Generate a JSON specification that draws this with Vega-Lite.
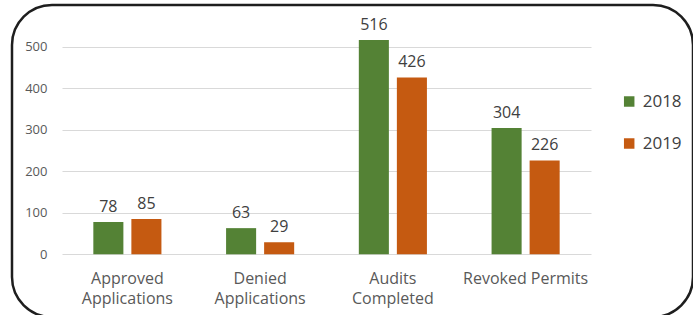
{
  "$schema": "https://vega.github.io/schema/vega-lite/v6.json",
  "width": 681,
  "height": 312,
  "autosize": {"type": "none"},
  "padding": {"left": 12, "top": 5, "right": 0, "bottom": 0},
  "background": "white",
  "config": {
    "view": {"stroke": "#1e1e1e", "strokeWidth": 2.5, "cornerRadius": 40, "fill": "white"},
    "font": "Open Sans"
  },
  "data": {
    "values": [
      {"category": "Approved Applications", "year": "2018", "value": 78},
      {"category": "Approved Applications", "year": "2019", "value": 85},
      {"category": "Denied Applications", "year": "2018", "value": 63},
      {"category": "Denied Applications", "year": "2019", "value": 29},
      {"category": "Audits Completed", "year": "2018", "value": 516},
      {"category": "Audits Completed", "year": "2019", "value": 426},
      {"category": "Revoked Permits", "year": "2018", "value": 304},
      {"category": "Revoked Permits", "year": "2019", "value": 226}
    ]
  },
  "encoding": {
    "x": {
      "field": "category",
      "type": "nominal",
      "sort": null,
      "scale": {"range": [50, 579], "paddingInner": 0.487, "paddingOuter": 0.236},
      "axis": {
        "title": null,
        "orient": "bottom",
        "offset": -62.7,
        "domain": false,
        "ticks": false,
        "grid": false,
        "labelAngle": 0,
        "labelFont": "Open Sans",
        "labelFontSize": 16,
        "labelColor": "#595959",
        "labelPadding": 16,
        "labelLineHeight": 20,
        "labelExpr": "datum.label == 'Revoked Permits' ? datum.label : split(datum.label, ' ')"
      }
    },
    "xOffset": {
      "field": "year",
      "type": "nominal",
      "scale": {"paddingInner": 0.21, "paddingOuter": 0}
    },
    "y": {
      "field": "value",
      "type": "quantitative",
      "scale": {"domain": [0, 500], "range": [249.3, 41.7], "nice": false, "zero": true},
      "axis": {
        "title": null,
        "values": [0, 100, 200, 300, 400, 500],
        "domain": false,
        "ticks": false,
        "grid": true,
        "gridColor": "#d9d9d9",
        "gridWidth": 1.2,
        "offset": -35,
        "labelPadding": 0,
        "labelFont": "Open Sans",
        "labelFontSize": 13,
        "labelColor": "#595959"
      }
    },
    "color": {
      "field": "year",
      "type": "nominal",
      "scale": {"domain": ["2018", "2019"], "range": ["#548235", "#c55a11"]},
      "legend": {
        "title": null,
        "orient": "none",
        "legendX": 608.7,
        "legendY": 88,
        "symbolType": "square",
        "symbolSize": 110,
        "symbolStrokeWidth": 0,
        "labelFont": "Open Sans",
        "labelFontSize": 17,
        "labelColor": "#404040",
        "labelOffset": 5,
        "rowPadding": 24,
        "padding": 0
      }
    }
  },
  "layer": [
    {"mark": {"type": "bar", "clip": false}},
    {
      "mark": {
        "type": "text",
        "baseline": "alphabetic",
        "dy": -10,
        "font": "Open Sans",
        "fontSize": 16,
        "color": "#404040"
      },
      "encoding": {
        "text": {"field": "value", "type": "quantitative"},
        "color": {"value": "#404040"}
      }
    }
  ]
}
